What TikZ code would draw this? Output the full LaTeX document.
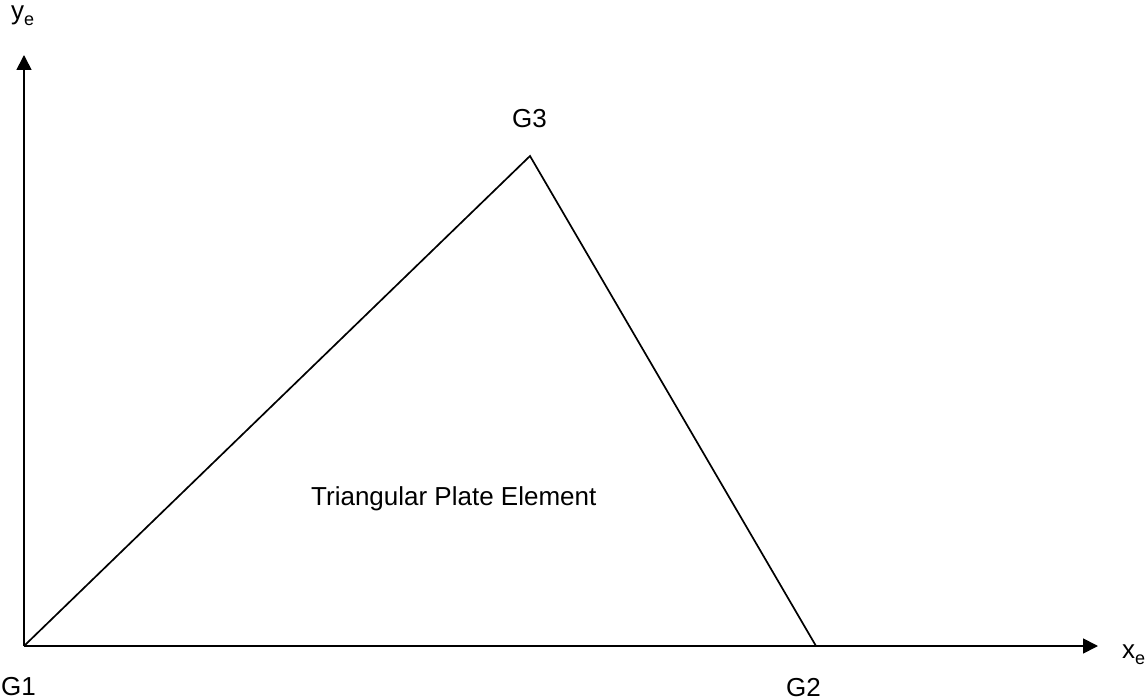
\documentclass[tikz,border=0pt]{standalone}
\usepackage{fontspec}
\setmainfont{Liberation Sans}
\usetikzlibrary{arrows.meta}
\newcommand{\lowsub}[1]{\raisebox{-6pt}{\fontsize{18}{20}\selectfont #1}}
\begin{document}
\begin{tikzpicture}[x=1pt,y=-1pt,
  edge/.style={line width=1.7pt,line cap=butt},
  axis/.style={edge,-{Triangle[length=15pt,width=15pt]}},
  lbl/.style={font=\fontsize{26}{30}\selectfont,inner sep=0pt,anchor=base west}]
\useasboundingbox (0,0) rectangle (1148,700);
\coordinate (G1) at (24,646);
\coordinate (G2) at (816,646);
\coordinate (G3) at (530,156);
\coordinate (ytip) at (24,55);
\coordinate (xtip) at (1098,646);
\draw[axis] (G1) -- (ytip);
\draw[axis] (G1) -- (xtip);
\draw[edge,line join=miter] (G1) -- (G3) -- (G2);
\node[lbl] (ye) at (11,20) {y\lowsub{e}};
\node[lbl] (xe) at (1122,658) {x\lowsub{e}};
\node[lbl] (g1) at (1,695) {G1};
\node[lbl] (g2) at (786,696) {G2};
\node[lbl] (g3) at (512,128) {G3};
\node[lbl] (title) at (311,505) {Triangular Plate Element};
\end{tikzpicture}
\end{document}
